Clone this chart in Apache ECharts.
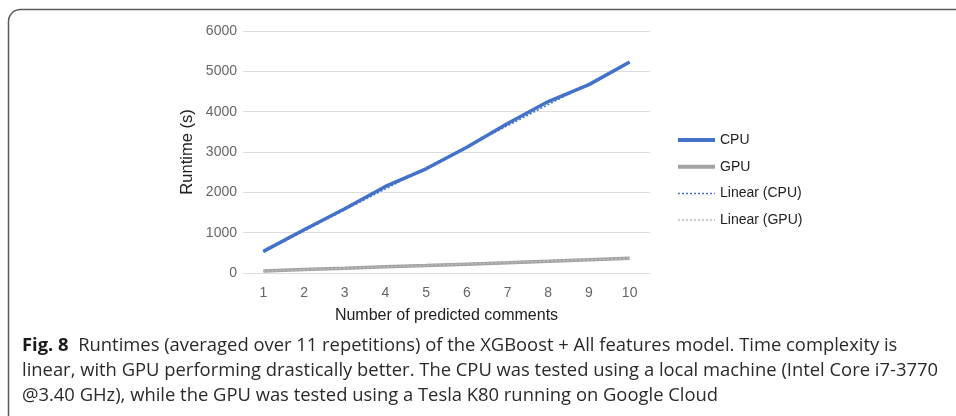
<!DOCTYPE html>
<html>
<head>
<meta charset="utf-8">
<script src="https://cdn.jsdelivr.net/npm/echarts@6/dist/echarts.min.js"></script>
<style>
  html, body { margin: 0; padding: 0; background: #fff; }
  #chart { width: 956px; height: 416px; }
</style>
</head>
<body>
<div id="chart"></div>
<script>
// values
var categories = ["1", "2", "3", "4", "5", "6", "7", "8", "9", "10"];
var cpuRuntime = [537, 1074, 1594, 2146, 2584, 3119, 3705, 4250, 4670, 5233];
var gpuRuntime = [50, 85, 118, 152, 183, 218, 252, 290, 330, 368];
// dotted linear trend lines (mostly hidden under the data lines)
var cpuTrend = [520, 1040, 1565, 2085, 2610, 3130, 3650, 4175, 4695, 5215];
var gpuTrend = [48, 83, 118, 153, 188, 223, 258, 293, 328, 363];
var yTicks = { min: 0, max: 6000, interval: 1000 };

var captionLines = [
  "Runtimes (averaged over 11 repetitions) of the XGBoost + All features model. Time complexity is",
  "linear, with GPU performing drastically better. The CPU was tested using a local machine (Intel Core i7-3770",
  "@3.40 GHz), while the GPU was tested using a Tesla K80 running on Google Cloud"
];

var blue = "#4472c8";
var grey = "#a3a3a3";
var font = "Liberation Sans, Arial, sans-serif";
var capFont = "Open Sans, Noto Sans, sans-serif";
var capSize = 18.4;

var chart = echarts.init(document.getElementById("chart"));

var option = {
  animation: false,
  backgroundColor: "#fff",
  textStyle: { fontFamily: font },
  grid: { left: 243, right: 306, top: 31, bottom: 143 },
  legend: {
    orient: "vertical",
    left: 676,
    top: 133,
    padding: 0,
    itemWidth: 37,
    itemHeight: 14,
    itemGap: 12.7,
    itemStyle: { opacity: 0 },
    textStyle: { fontSize: 14, color: "#222", fontFamily: font },
    data: [
      { name: "CPU", lineStyle: { width: 4 } },
      { name: "GPU", lineStyle: { width: 4 } },
      { name: "Linear (CPU)", lineStyle: { width: 1.5 } },
      { name: "Linear (GPU)", lineStyle: { width: 1.5 } }
    ]
  },
  xAxis: {
    type: "category",
    data: categories,
    boundaryGap: true,
    axisLine: { show: false },
    axisTick: { show: false },
    axisLabel: { color: "#666", fontSize: 14, margin: 13 },
    name: "Number of predicted comments",
    nameLocation: "middle",
    nameGap: 35,
    nameTextStyle: { color: "#222", fontSize: 16 }
  },
  yAxis: {
    type: "value",
    min: yTicks.min,
    max: yTicks.max,
    interval: yTicks.interval,
    axisLine: { show: false },
    axisTick: { show: false },
    axisLabel: {
      color: "#666",
      fontSize: 14,
      margin: 6,
      formatter: function (v) { return String(v); }
    },
    splitLine: { lineStyle: { color: "#dcdcdc", width: 1 } },
    name: "Runtime (s)",
    nameLocation: "middle",
    nameGap: 47,
    nameTextStyle: { color: "#222", fontSize: 16.5 }
  },
  series: [
    {
      name: "CPU",
      type: "line",
      data: cpuRuntime,
      symbol: "none",
      color: blue,
      lineStyle: { width: 3.5, color: blue }
    },
    {
      name: "GPU",
      type: "line",
      data: gpuRuntime,
      symbol: "none",
      color: grey,
      lineStyle: { width: 3.5, color: grey }
    },
    {
      name: "Linear (CPU)",
      type: "line",
      data: cpuTrend,
      symbol: "none",
      color: blue,
      lineStyle: { width: 1.5, color: blue, type: [2, 2] }
    },
    {
      name: "Linear (GPU)",
      type: "line",
      data: gpuTrend,
      symbol: "none",
      color: "#bbb",
      lineStyle: { width: 1.5, color: "#bbb", type: [2, 2] }
    }
  ],
  graphic: [
    {
      type: "rect",
      shape: { x: 8.5, y: 9.5, width: 1200, height: 600, r: [12, 0, 0, 0] },
      style: { fill: null, stroke: "#5a5a5a", lineWidth: 1.5 },
      silent: true
    },
    {
      type: "text",
      left: 22,
      top: 337,
      style: {
        text: "{b|Fig. 8}  " + captionLines[0],
        font: capSize + "px " + capFont,
        fill: "#2a2a2a",
        rich: {
          b: { fontWeight: "bold", fontSize: capSize, fontFamily: capFont, fill: "#1a1a1a" }
        }
      }
    },
    {
      type: "text",
      left: 22,
      top: 362,
      style: { text: captionLines[1], font: capSize + "px " + capFont, fill: "#2a2a2a" }
    },
    {
      type: "text",
      left: 22,
      top: 387,
      style: { text: captionLines[2], font: capSize + "px " + capFont, fill: "#2a2a2a" }
    }
  ]
};

chart.setOption(option);
</script>
</body>
</html>
